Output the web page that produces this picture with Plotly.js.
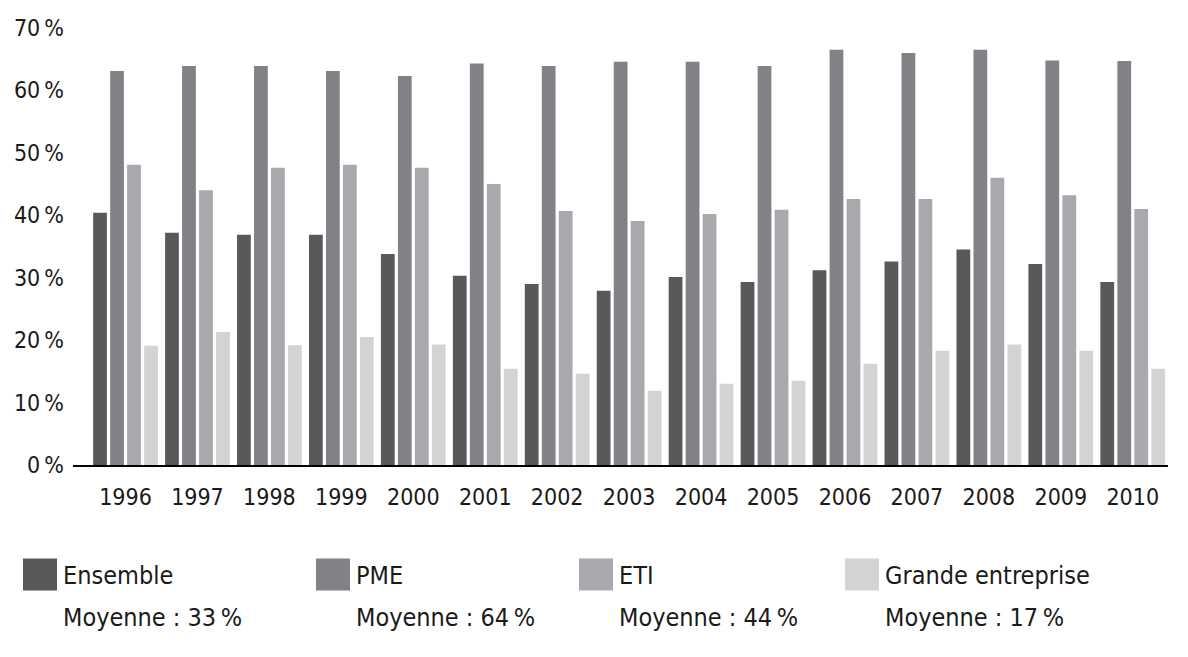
<!DOCTYPE html>
<html>
<head>
<meta charset="utf-8">
<script src="https://cdn.plot.ly/plotly-3.0.1.min.js"></script>
<style>
  html, body { margin: 0; padding: 0; background: #ffffff; }
  #chart { width: 1188px; height: 657px; }
</style>
</head>
<body>
<div id="chart"></div>
<script>
const years = ['1996', '1997', '1998', '1999', '2000', '2001', '2002', '2003',
  '2004', '2005', '2006', '2007', '2008', '2009', '2010']

const ensemble = [40.4, 37.2, 36.9, 36.9, 33.8, 30.3, 29.0, 27.9, 30.1, 29.3, 31.2, 32.6, 34.5, 32.2, 29.3]
const pme = [63.1, 63.9, 63.9, 63.1, 62.3, 64.3, 63.9, 64.6, 64.6, 63.9, 66.5, 66.0, 66.5, 64.8, 64.7]
const eti = [48.1, 44.0, 47.6, 48.1, 47.6, 45.0, 40.7, 39.1, 40.2, 40.9, 42.6, 42.6, 46.0, 43.2, 41.0]
const grande = [19.1, 21.3, 19.2, 20.5, 19.3, 15.4, 14.6, 11.9, 13.0, 13.5, 16.2, 18.3, 19.3, 18.3, 15.4]

const seriesNames = ['Ensemble', 'PME', 'ETI', 'Grande entreprise']
const averages = [33, 64, 44, 17]
const tickValues = [0, 10, 20, 30, 40, 50, 60, 70]
const tickLabels = tickValues.map(v => v + '\u202F%')

const colors = ['#58595b', '#808285', '#a7a9ac', '#d1d3d4']
const font = "'DejaVu Sans Condensed', 'Liberation Sans Narrow', sans-serif"
const ink = '#1a1a1a'

// plot area in pixels, used to place the hand-made legend
const W = 1188, H = 657
const margin = { l: 73, r: 20, t: 28, b: 192 }
const plotW = W - margin.l - margin.r
const plotH = H - margin.t - margin.b
const px = x => (x - margin.l) / plotW
const py = y => (H - margin.b - y) / plotH

const legendLeft = [23, 316, 579, 845]

const allSeries = [ensemble, pme, eti, grande]
const data = allSeries.map((values, i) => ({
  type: 'bar',
  x: years,
  y: values,
  name: seriesNames[i],
  marker: { color: colors[i], line: { width: 0 } },
  hoverinfo: 'x+y+name',
}))

const shapes = []
const annotations = []
for (let i = 0; i < seriesNames.length; i++) {
  const x0 = legendLeft[i]
  shapes.push({
    type: 'rect', xref: 'paper', yref: 'paper', layer: 'above',
    x0: px(x0), x1: px(x0 + 34), y0: py(590.5), y1: py(558.5),
    fillcolor: colors[i], line: { width: 0 },
  })
  annotations.push({
    xref: 'paper', yref: 'paper', x: px(x0 + 38), y: py(575),
    xanchor: 'left', yanchor: 'middle', showarrow: false,
    text: seriesNames[i], font: { family: font, size: 25, color: ink },
  })
  annotations.push({
    xref: 'paper', yref: 'paper', x: px(x0 + 38), y: py(617),
    xanchor: 'left', yanchor: 'middle', showarrow: false,
    text: 'Moyenne : ' + averages[i] + '\u202F%', font: { family: font, size: 25, color: ink },
  })
}

const layout = {
  width: W,
  height: H,
  margin: margin,
  paper_bgcolor: '#ffffff',
  plot_bgcolor: '#ffffff',
  font: { family: font, color: ink, size: 23 },
  barmode: 'group',
  bargap: 0.055,
  bargroupgap: 0.19,
  showlegend: false,
  xaxis: {
    type: 'category',
    range: [-0.73, 14.49],
    showline: true,
    linecolor: '#000000',
    linewidth: 2,
    showgrid: false,
    zeroline: false,
    ticks: '',
    ticklabelstandoff: 10,
    tickfont: { family: font, size: 23, color: ink },
    fixedrange: true,
  },
  yaxis: {
    range: [0, 70],
    tickvals: tickValues,
    ticktext: tickLabels,
    showgrid: false,
    zeroline: false,
    showline: false,
    ticks: '',
    ticklabelstandoff: 8,
    tickfont: { family: font, size: 23, color: ink },
    fixedrange: true,
  },
  shapes: shapes,
  annotations: annotations,
}

const config = { displayModeBar: false, staticPlot: true }

Plotly.newPlot('chart', data, layout, config)
</script>
</body>
</html>
